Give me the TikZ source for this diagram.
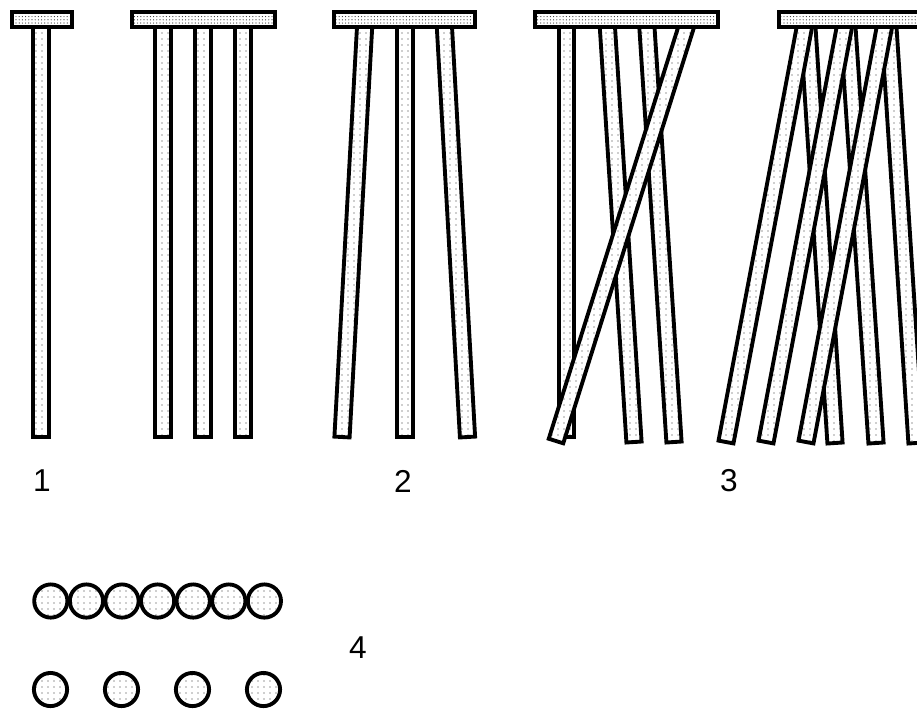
\documentclass[tikz,border=0pt]{standalone}
\usepackage{fontspec}
\setmainfont{Liberation Sans}
\usetikzlibrary{calc,patterns.meta}
\definecolor{dotgrey}{HTML}{333333}

% one fibre from top centre #1 to bottom centre #2
\newcommand{\fibre}[2]{%
  \draw[fibre] ($#1!0.76mm!90:#2$) -- ($#2!0.76mm!-90:#1$)
    -- ($#2!0.76mm!90:#1$) -- ($#1!0.76mm!-90:#2$) -- cycle;}

\begin{document}
\begin{tikzpicture}[x=0.1mm,y=-0.1mm,
    fibre/.style={line width=1.1pt,preaction={fill=white},
      pattern={Dots[distance=0.6mm,radius=0.07mm]},pattern color=dotgrey},
    capbar/.style={line width=1.1pt,preaction={fill=white},
      pattern={Dots[distance=0.32mm,radius=0.06mm]},pattern color=dotgrey},
    num/.style={font=\fontsize{9}{10}\selectfont,inner sep=0pt}]
  \clip (0,0) rectangle (917,711);

  % 1: straight, parallel
  \fibre{(41,18)}{(41,437)}
  \foreach \x in {163,203,243} {
    \fibre{(\x,18)}{(\x,437)}
  }
  \draw[capbar] (11.6,11.6) rectangle (71.6,27.4);
  \draw[capbar] (131.6,11.6) rectangle (274.6,27.4);
  \node[num] (lab1) at (42,481) {1};

  % 2: spread
  \fibre{(365.1,18)}{(342,437)}
  \fibre{(405,18)}{(405,437)}
  \fibre{(443.9,18)}{(467.5,437)}
  \draw[capbar] (333.6,11.6) rectangle (475.4,27.4);
  \node[num] (lab2) at (403,481) {2};

  % 3: crossing
  \fibre{(566.5,18)}{(566.5,437)}
  \fibre{(606.8,18)}{(634,442)}
  \fibre{(646.3,18)}{(674,442)}
  \fibre{(689,18)}{(556,441)}
  \draw[capbar] (534.6,11.6) rectangle (718.4,27.4);

  \foreach \t/\b in {807.3/835,847.3/876,888.3/916} {
    \fibre{(\t,18)}{(\b,443)}
  }
  \foreach \t/\b in {806.1/726,846.1/766,886.1/806} {
    \fibre{(\t,18)}{(\b,442)}
  }
  \draw[capbar] (778.6,11.6) rectangle (940,27.4);
  \node[num] (lab3) at (729,481) {3};

  % 4: cross sections
  \foreach \cx in {50.8,86.4,122,157.6,193.2,228.8,264.4} {
    \draw[fibre] (\cx,601) circle[radius=1.66mm];
  }
  \foreach \cx in {50.5,121.5,192.5,263.5} {
    \draw[fibre] (\cx,689.5) circle[radius=1.66mm];
  }
  \node[num] (lab4) at (358,648) {4};
\end{tikzpicture}
\end{document}
